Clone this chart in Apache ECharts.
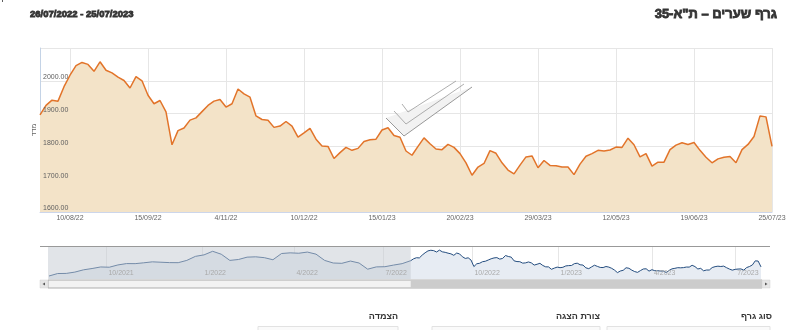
<!DOCTYPE html>
<html>
<head>
<meta charset="utf-8">
<script src="https://cdn.jsdelivr.net/npm/echarts@6/dist/echarts.min.js"></script>
<style>
  html, body { margin: 0; padding: 0; background: #fff; }
  #chart { width: 800px; height: 330px; }
</style>
</head>
<body>
<div id="chart"></div>
<script>
// TA-35 index, one value every 2 trading days, 26/07/2022 .. 25/07/2023
const indexValues = [
  1896, 1925, 1941, 1938, 1982, 2017, 2046, 2056, 2050, 2029,
  2058, 2032, 2024, 2011, 2001, 1978, 2013, 2000, 1956, 1930,
  1940, 1905, 1805, 1848, 1856, 1880, 1887, 1906, 1925, 1938,
  1943, 1920, 1930, 1975, 1960, 1950, 1893, 1882, 1880, 1858,
  1862, 1876, 1862, 1828, 1841, 1855, 1822, 1801, 1800, 1763,
  1781, 1797, 1788, 1794, 1815, 1820, 1822, 1850, 1857, 1833,
  1828, 1786, 1773, 1800, 1826, 1808, 1792, 1790, 1806, 1797,
  1778, 1750, 1712, 1737, 1748, 1787, 1779, 1750, 1728, 1716,
  1743, 1768, 1771, 1735, 1757, 1742, 1741, 1737, 1737, 1714,
  1746, 1770, 1778, 1788, 1786, 1789, 1798, 1797, 1825, 1805,
  1768, 1778, 1740, 1752, 1752, 1790, 1804, 1811, 1806, 1812,
  1788, 1767, 1750, 1762, 1767, 1769, 1750, 1790, 1806, 1830,
  1893, 1890, 1800
];
// the year before, navigator only, one value every 6 trading days
const prevYearValues = [
  1660, 1698, 1700, 1720, 1755, 1775, 1799, 1795, 1830, 1851,
  1850, 1863, 1878, 1872, 1866, 1865, 1900, 1962, 1985, 2040,
  1995, 1900, 1914, 1950, 1955, 1942, 1910, 2006, 2016, 2010,
  2028, 1996, 1900, 1860, 1855, 1890, 1860, 1765, 1800, 1803,
  1828, 1850
];

const STEP = 2;          // trading days between indexValues
const PREV_STEP = 6;     // trading days between prevYearValues
const NAV_OFFSET = 252;  // trading day of 26/07/2022 in the navigator

const tickDays = [10, 36, 62, 88, 114, 140, 166, 192, 218, 244];
const tickLabels = ['10/08/22', '15/09/22', '4/11/22', '10/12/22', '15/01/23',
                    '20/02/23', '29/03/23', '12/05/23', '19/06/23', '25/07/23'];
const navTickDays = [40, 107, 171, 233, 295, 355, 420, 478];
const navTickLabels = ['10/2021', '1/2022', '4/2022', '7/2022', '10/2022', '1/2023', '4/2023', '7/2023'];

const titleText = 'גרף שערים – ת"א-35';
const dateRangeText = '26/07/2022 - 25/07/2023';
const yAxisName = 'מדד';
const controlLabels = ['סוג גרף', 'צורת הצגה', 'הצמדה'];

const FONT = '"Liberation Sans", Arial, sans-serif';

const chart = echarts.init(document.getElementById('chart'));

const mainData = indexValues.map((v, i) => [i * STEP, v]);
const navData = prevYearValues.map((v, i) => [i * PREV_STEP, v])
  .concat(indexValues.map((v, i) => [NAV_OFFSET + i * STEP, v]));
const lastDay = (indexValues.length - 1) * STEP;
const navMax = NAV_OFFSET + lastDay;

const option = {
  animation: false,
  backgroundColor: '#fff',
  grid: [
    { left: 40, right: 28, top: 48, bottom: 118 },
    { left: 49, right: 39, top: 247, bottom: 51 }
  ],
  xAxis: [
    {
      type: 'value', gridIndex: 0, min: 0, max: lastDay, position: 'bottom',
      axisLine: { show: true, onZero: false, lineStyle: { color: '#ccd6eb' } },
      axisTick: { show: false, customValues: tickDays },
      axisLabel: {
        customValues: tickDays,
        formatter: v => tickLabels[tickDays.indexOf(v)],
        color: '#666', fontSize: 7, fontFamily: FONT, margin: 3
      },
      splitLine: { show: true, lineStyle: { color: '#e6e6e6' } }
    },
    {
      type: 'value', gridIndex: 1, min: 0, max: navMax, position: 'bottom',
      axisLine: { show: false },
      axisTick: { show: false, customValues: navTickDays },
      axisLabel: { show: false },
      splitLine: { show: true, lineStyle: { color: '#e6e6e6' } }
    },
    // navigator labels, drawn above the navigator area
    {
      type: 'value', gridIndex: 1, min: 0, max: navMax, z: 12, position: 'bottom', offset: 0,
      axisLine: { show: false, onZero: false },
      axisTick: { show: false, customValues: navTickDays },
      axisLabel: {
        customValues: navTickDays,
        formatter: v => navTickLabels[navTickDays.indexOf(v)],
        inside: true, align: 'left', padding: [0, 0, 0, 2], margin: 2,
        color: '#aaa', fontSize: 7, fontFamily: FONT
      },
      splitLine: { show: false }
    }
  ],
  yAxis: [
    {
      type: 'value', gridIndex: 0, min: 1600, max: 2100, interval: 100, position: 'left',
      name: yAxisName, nameLocation: 'middle', nameRotate: 90, nameGap: 2,
      nameMoveOverlap: false,
      nameTextStyle: { color: '#666', fontSize: 7, fontFamily: FONT },
      axisLine: { show: true, lineStyle: { color: '#c4d3e6' } },
      axisTick: { show: false },
      axisLabel: { show: false },
      splitLine: { lineStyle: { color: '#e6e6e6' } }
    },
    {
      type: 'value', gridIndex: 1, min: 1614, max: 2106, show: false,
      splitLine: { show: false }
    },
    // value labels, drawn above the area
    {
      type: 'value', gridIndex: 0, min: 1600, max: 2100, interval: 100, z: 12,
      position: 'left', offset: 0,
      axisLine: { show: false, onZero: false },
      axisTick: { show: false },
      axisLabel: {
        inside: true, showMaxLabel: false, hideOverlap: false, verticalAlign: 'bottom', margin: 3,
        formatter: v => v.toFixed(2),
        color: '#606060', fontSize: 7, fontFamily: FONT
      },
      splitLine: { show: false }
    }
  ],
  series: [
    {
      type: 'line', xAxisIndex: 0, yAxisIndex: 0, data: mainData,
      symbol: 'none', smooth: false,
      lineStyle: { color: '#e2742a', width: 1.5 },
      areaStyle: { color: '#f3e3c8', origin: 'start', opacity: 1 },
      z: 3
    },
    {
      type: 'line', xAxisIndex: 1, yAxisIndex: 1, data: navData,
      symbol: 'none',
      lineStyle: { color: '#244d7f', width: 1 },
      areaStyle: { color: '#e7ecf3', origin: 'start', opacity: 1 },
      z: 2
    }
  ],
  graphic: [
    { type: 'text', id: 'dates', x: 30, y: 14,
      style: { text: dateRangeText, font: 'bold 9.5px ' + FONT, fill: '#333', textVerticalAlign: 'middle' } },
    { type: 'text', id: 'title', x: 777, y: 14,
      style: { text: '\u202B' + titleText + '\u202C', font: 'bold 13px ' + FONT, fill: '#333',
               textAlign: 'right', textVerticalAlign: 'middle' } },
    { type: 'line', id: 'underline', shape: { x1: 30, y1: 29.5, x2: 777, y2: 29.5 },
      style: { stroke: '#2f5b8d', lineWidth: 2 } },
    // faint watermark
    { type: 'polyline', id: 'wm1', z: 1, shape: { points: [[386, 118], [404, 136], [472, 87]] },
      style: { stroke: '#f2f2f2', lineWidth: 2, fill: null } },
    { type: 'polyline', id: 'wm2', z: 1, shape: { points: [[394, 111], [406, 124], [464, 84]] },
      style: { stroke: '#f2f2f2', lineWidth: 2, fill: null } },
    { type: 'polyline', id: 'wm3', z: 1, shape: { points: [[402, 104], [408, 112], [456, 81]] },
      style: { stroke: '#f2f2f2', lineWidth: 2, fill: null } },
    // navigator frame
    { type: 'line', id: 'navTop', shape: { x1: 40, y1: 246.5, x2: 770, y2: 246.5 },
      style: { stroke: '#dcdcdc', lineWidth: 1 } },
    { type: 'line', id: 'navRight', shape: { x1: 769.5, y1: 246, x2: 769.5, y2: 280 },
      style: { stroke: '#dcdcdc', lineWidth: 1 } },
    // scrollbar
    { type: 'rect', id: 'track', shape: { x: 48, y: 280, width: 714, height: 8 },
      style: { fill: '#f2f2f2' } },
    { type: 'rect', id: 'btnL', shape: { x: 40, y: 280, width: 8, height: 8 },
      style: { fill: '#e6e6e6', stroke: '#d0d0d0', lineWidth: 0.5 } },
    { type: 'polygon', id: 'arrL', shape: { points: [[42.5, 284], [45, 282.5], [45, 285.5]] },
      style: { fill: '#555' } },
    { type: 'rect', id: 'btnR', shape: { x: 762, y: 280, width: 8, height: 8 },
      style: { fill: '#e6e6e6', stroke: '#d0d0d0', lineWidth: 0.5 } },
    { type: 'polygon', id: 'arrR', shape: { points: [[767.5, 284], [765, 282.5], [765, 285.5]] },
      style: { fill: '#555' } },
    // controls below the chart
    { type: 'text', id: 'lbl0', x: 772, y: 317,
      style: { text: controlLabels[0], font: 'bold 9px ' + FONT, fill: '#333', textAlign: 'right', textVerticalAlign: 'middle' } },
    { type: 'text', id: 'lbl1', x: 600, y: 317,
      style: { text: controlLabels[1], font: 'bold 9px ' + FONT, fill: '#333', textAlign: 'right', textVerticalAlign: 'middle' } },
    { type: 'text', id: 'lbl2', x: 398, y: 317,
      style: { text: controlLabels[2], font: 'bold 9px ' + FONT, fill: '#333', textAlign: 'right', textVerticalAlign: 'middle' } },
    { type: 'rect', id: 'box0', shape: { x: 607, y: 326.5, width: 163, height: 10 },
      style: { fill: '#fafafa', stroke: '#e2e2e2', lineWidth: 1 } },
    { type: 'rect', id: 'box1', shape: { x: 432, y: 326.5, width: 168, height: 10 },
      style: { fill: '#fafafa', stroke: '#e2e2e2', lineWidth: 1 } },
    { type: 'rect', id: 'box2', shape: { x: 258, y: 326.5, width: 140, height: 10 },
      style: { fill: '#fafafa', stroke: '#e2e2e2', lineWidth: 1 } }
  ]
};

chart.setOption(option);

// navigator selection: mask, handles and scrollbar thumb follow the nav axis
const navLeft = chart.convertToPixel({ xAxisIndex: 1, yAxisIndex: 1 }, [0, 1614]);
const selStart = chart.convertToPixel({ xAxisIndex: 1, yAxisIndex: 1 }, [NAV_OFFSET, 2106]);
const selEnd = chart.convertToPixel({ xAxisIndex: 1, yAxisIndex: 1 }, [navMax, 1614]);
const navTopY = selStart[1], navBottomY = navLeft[1];
const handleY = (navTopY + navBottomY) / 2;

function handle(id, x) {
  return {
    type: 'group', id: id, x: x, y: handleY, z: 20,
    children: [
      { type: 'rect', shape: { x: -3, y: -5, width: 6, height: 10, r: 1 },
        style: { fill: '#f2f2f2', stroke: '#999', lineWidth: 1 } },
      { type: 'line', shape: { x1: -0.5, y1: -2.5, x2: -0.5, y2: 2.5 }, style: { stroke: '#999', lineWidth: 0.8 } },
      { type: 'line', shape: { x1: 1, y1: -2.5, x2: 1, y2: 2.5 }, style: { stroke: '#999', lineWidth: 0.8 } }
    ]
  };
}

chart.setOption({
  graphic: [
    { type: 'rect', id: 'mask', z: 10,
      shape: { x: navLeft[0] - 1, y: navTopY, width: selStart[0] - navLeft[0] + 1, height: navBottomY - navTopY },
      style: { fill: 'rgba(196, 201, 209, 0.5)' } },
    { type: 'rect', id: 'thumb', z: 10,
      shape: { x: selStart[0], y: 280, width: 762 - selStart[0], height: 8 },
      style: { fill: '#cccccc' } },
    { type: 'group', id: 'grip', z: 11, x: (selStart[0] + 762) / 2, y: 284,
      children: [-2, 0, 2].map(dx => ({
        type: 'line', shape: { x1: dx + 0.5, y1: -2, x2: dx + 0.5, y2: 2 },
        style: { stroke: '#333', lineWidth: 0.8 }
      })) },
    handle('hL', selStart[0]),
    handle('hR', selEnd[0])
  ]
});
</script>
</body>
</html>
